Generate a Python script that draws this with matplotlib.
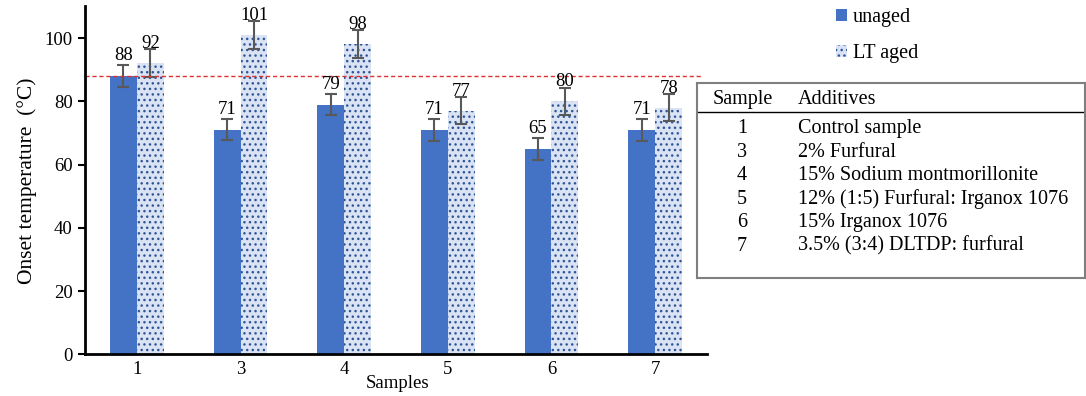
import matplotlib
matplotlib.use("Agg")
import matplotlib.pyplot as plt
from matplotlib.patches import Patch
import numpy as np

plt.rcParams['font.family'] = ['Liberation Serif', 'DejaVu Serif']
plt.rcParams['hatch.linewidth'] = 1.0

samples = ['1', '3', '4', '5', '6', '7']
unaged = [88, 71, 79, 71, 65, 71]
lt_aged = [92, 101, 98, 77, 80, 78]
unaged_err = [3.5, 3.3, 3.3, 3.5, 3.4, 3.4]
lt_aged_err = [4.4, 4.3, 4.4, 4.3, 4.3, 4.2]

table_samples = ['1', '3', '4', '5', '6', '7']
table_additives = ['Control sample', '2% Furfural', '15% Sodium montmorillonite',
                   '12% (1:5) Furfural: Irganox 1076', '15% Irganox 1076',
                   '3.5% (3:4) DLTDP: furfural']

blue = '#4472c4'
light = '#dae3f3'
dots = '#2f5597'
err_col = '#595959'
big = 14.5
mid = 13.5

fig = plt.figure(figsize=(10.86, 3.96), dpi=100)
ax = fig.add_axes([0.0783, 0.1048, 0.5727, 0.879])

x = np.arange(len(samples))
w = 0.26
ekw = dict(ecolor=err_col, elinewidth=1.5, capsize=4.5, capthick=1.5)
ax.bar(x - w / 2, unaged, w, color=blue, yerr=unaged_err, error_kw=ekw)
ax.bar(x + w / 2, lt_aged, w, color=light, edgecolor=dots, linewidth=0, hatch='...',
       yerr=lt_aged_err, error_kw=ekw)

for xi, v, e in zip(x - w / 2, unaged, unaged_err):
    ax.text(xi, v + e + 0.3, f'{v}', ha='center', va='bottom', fontsize=mid)
for xi, v, e in zip(x + w / 2, lt_aged, lt_aged_err):
    ax.text(xi, v + e - 0.8, f'{v}', ha='center', va='bottom', fontsize=mid)

ax.axhline(unaged[0], xmin=0, xmax=0.99, color='#e03030', linestyle=(0, (3, 2)), linewidth=1)

ax.set_xlim(-0.5, len(samples) - 0.5)
ax.set_ylim(0, 110)
ax.set_yticks(range(0, 101, 20))
ax.set_xticks(x)
ax.set_xticklabels(samples)
ax.tick_params(axis='x', length=0, pad=5, labelsize=mid)
ax.tick_params(axis='y', length=5, width=1.5, labelsize=mid, pad=4)
for s in ['top', 'right']:
    ax.spines[s].set_visible(False)
for s in ['left', 'bottom']:
    ax.spines[s].set_linewidth(2)
ax.set_ylabel('Onset temperature  (°C)', fontsize=15.5, labelpad=5)
ax.set_xlabel('Samples', fontsize=mid)
ax.xaxis.set_label_coords(0.503, -0.06)

handles = [Patch(facecolor=blue, label='unaged'),
           Patch(facecolor=light, edgecolor=dots, linewidth=0, hatch='...', label='LT aged')]
fig.legend(handles=handles, loc='upper left', bbox_to_anchor=(0.753, 1.025), frameon=False,
           fontsize=big, handlelength=0.55, handleheight=0.55, handletextpad=0.3,
           labelspacing=0.85)

# additives table
tax = fig.add_axes([0.6418, 0.298, 0.3573, 0.4924])
tax.set_xticks([])
tax.set_yticks([])
for s in tax.spines.values():
    s.set_color('#7f7f7f')
    s.set_linewidth(1.5)
tax.set_xlim(0, 1)
tax.set_ylim(0, 1)
tax.axhline(0.851, color='black', linewidth=1)
tax.text(0.039, 0.913, 'Sample', ha='left', va='center', fontsize=big)
tax.text(0.26, 0.913, 'Additives', ha='left', va='center', fontsize=big)
row_y = [0.768, 0.645, 0.527, 0.404, 0.287, 0.164]
for yy, s, a in zip(row_y, table_samples, table_additives):
    tax.text(0.116, yy, s, ha='center', va='center', fontsize=big)
    tax.text(0.26, yy, a, ha='left', va='center', fontsize=big)

fig.savefig('out.png', dpi=100)
